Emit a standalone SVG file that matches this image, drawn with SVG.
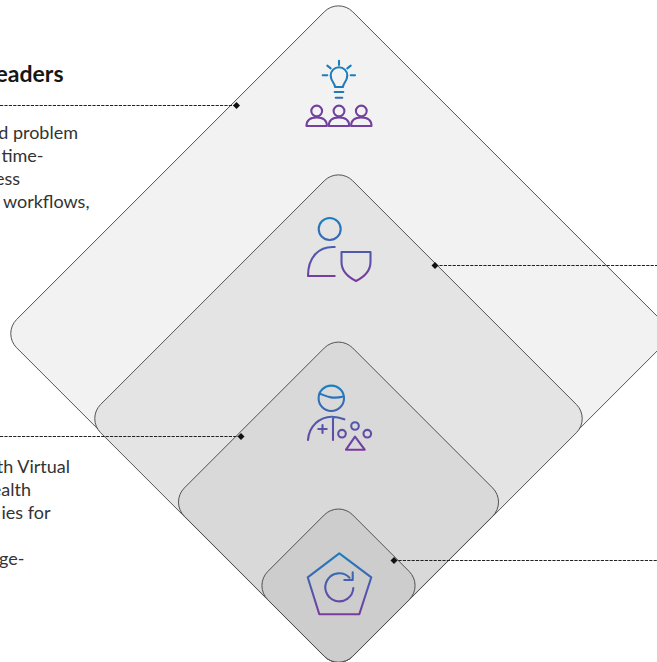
<svg xmlns="http://www.w3.org/2000/svg" width="657" height="662" viewBox="0 0 657 662">
<style>
.d{stroke:#4a4a4a;stroke-width:.9}
.lead{fill:none;stroke:#222;stroke-width:1.1;stroke-dasharray:3.2 1.2}
.dot{fill:#111}
.ic{fill:none;stroke-width:2.1;stroke-linecap:round;stroke-linejoin:round}
text{font-family:"Lato","Liberation Sans",sans-serif;text-anchor:end}
.t{font-size:23px;font-weight:700;fill:#161616}
.b{font-size:18px;fill:#333}
</style>
<defs>
<linearGradient id="g1" gradientUnits="userSpaceOnUse" x1="0" y1="60" x2="0" y2="127"><stop offset="0" stop-color="#1a80c0"/><stop offset=".55" stop-color="#1f78ba"/><stop offset=".62" stop-color="#6f429f"/><stop offset="1" stop-color="#73409f"/></linearGradient>
<linearGradient id="g2" gradientUnits="userSpaceOnUse" x1="0" y1="218" x2="0" y2="281"><stop offset="0" stop-color="#1a80c0"/><stop offset="1" stop-color="#7a3a9e"/></linearGradient>
<linearGradient id="g3" gradientUnits="userSpaceOnUse" x1="0" y1="385" x2="0" y2="450"><stop offset="0" stop-color="#1a80c0"/><stop offset="1" stop-color="#7a3a9e"/></linearGradient>
<linearGradient id="g4" gradientUnits="userSpaceOnUse" x1="0" y1="553" x2="0" y2="615"><stop offset="0" stop-color="#1a80c0"/><stop offset="1" stop-color="#7a3a9e"/></linearGradient>
</defs>
<g id="tier-1">
<rect class="d" fill="#f2f2f2" x="100.900" y="96" width="475.200" height="475.200" rx="20" transform="rotate(45 338.500 333.600)"/>
<g class="ic" stroke="url(#g1)">
<path d="M339 60.7V65M322.7 75.3H327.3M350.7 75.3H355M327.3 65.7L330.7 68.3M350.7 65.7L347.3 68.3"/>
<path d="M335 87C335 83 330.7 81.5 330.7 75.5A8.3 8.3 0 0 1 347.3 75.5C347.3 81.5 343 83 343 87Z"/>
<path d="M334.7 92H343.3M335.7 97.7H342.3"/>
<circle cx="316.7" cy="111" r="5.4"/><circle cx="339" cy="111" r="5.4"/><circle cx="361.3" cy="111" r="5.4"/>
<path d="M306.5 126Q306.5 117.5 316.7 117.5Q326.9 117.5 326.9 126Z"/>
<path d="M328.8 126Q328.8 117.5 339 117.5Q349.2 117.5 349.2 126Z"/>
<path d="M351.1 126Q351.1 117.5 361.3 117.5Q371.5 117.5 371.5 126Z"/>
</g>
</g>
<g id="tier-2">
<rect class="d" fill="#e4e4e4" x="160.300" y="240.400" width="356.400" height="356.400" rx="20" transform="rotate(45 338.500 418.600)"/>
<g class="ic" stroke="url(#g2)">
<circle cx="329.7" cy="229" r="11"/>
<path d="M334.7 247C319 246 308 257 308 276H334.7"/>
<path d="M341.5 252H370.5V262C370.5 272 362 278 356 281C350 278 341.5 272 341.5 262Z"/>
</g>
</g>
<g id="tier-3">
<rect class="d" fill="#d9d9d9" x="219.500" y="383.100" width="238" height="238" rx="20" transform="rotate(45 338.500 502.100)"/>
<g class="ic" stroke="url(#g3)">
<circle cx="331.3" cy="398.3" r="12.7"/>
<path d="M319.5 393.500C326 396 331 399.500 343.500 396.500"/>
<path d="M308 440C309 426 320 416.700 331.700 416.700C336 416.700 340 417.500 344.300 419.300M333 417V440M318.300 429H326.700M322.500 425V433"/>
<circle cx="342" cy="433.7" r="3.8"/><circle cx="355" cy="426" r="3.8"/><circle cx="367.3" cy="433.7" r="3.8"/>
<path d="M355 436.700L364.700 449.700H346Z"/>
</g>
</g>
<g id="tier-4">
<rect class="d" fill="#cdcdcd" x="278.500" y="525.600" width="120" height="120" rx="20" transform="rotate(45 338.500 585.600)"/>
<g class="ic" stroke="url(#g4)">
<path d="M339.300 553.300L371.300 577.300L359.300 614.300H319.300L307.700 577.300Z"/>
<path d="M353.300 588A14 14 0 1 1 349.500 577.700M352.700 572.300V580H344.300"/>
</g>
</g>
<g id="connectors">
<path class="lead" d="M0 105.500H236"/><path class="dot" d="M236.500 102l3.500 3.500-3.500 3.500-3.500-3.500z"/>
<path class="lead" d="M435 265.500H657"/><path class="dot" d="M435 262l3.500 3.500-3.500 3.500-3.500-3.500z"/>
<path class="lead" d="M0 436.500H241"/><path class="dot" d="M241 433l3.500 3.500-3.500 3.500-3.500-3.500z"/>
<path class="lead" d="M394 560.500H657"/><path class="dot" d="M394 557l3.500 3.500-3.500 3.500-3.500-3.500z"/>
</g>
<g id="label-1">
<text class="t" x="63.500" y="82">eaders</text>
<text class="b" x="78" y="138.500">d problem</text>
<text class="b" x="43.500" y="161.500">time-</text>
<text class="b" x="20" y="184.500">ess</text>
<text class="b" x="89.500" y="207.500">workflows,</text>
</g>
<g id="label-2">
<text class="b" x="70" y="472.500">th Virtual</text>
<text class="b" x="31" y="495.500">ealth</text>
<text class="b" x="50.500" y="518.500">ies for</text>
<text class="b" x="24.500" y="564.500">ge-</text>
</g>
</svg>
